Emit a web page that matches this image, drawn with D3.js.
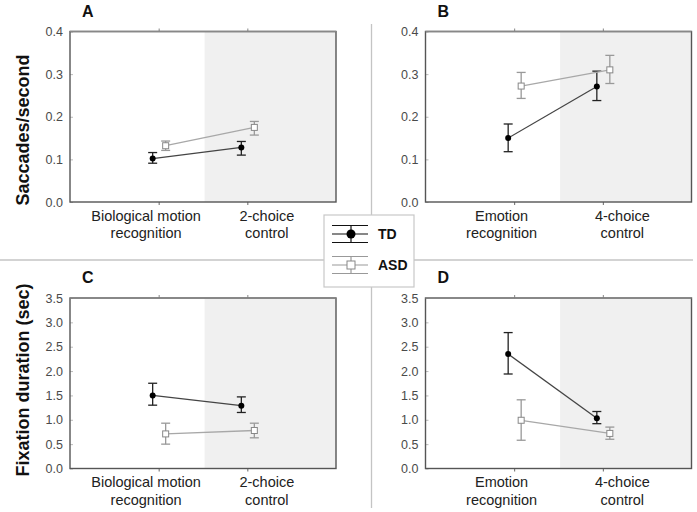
<!DOCTYPE html>
<html><head><meta charset="utf-8">
<script src="https://cdn.jsdelivr.net/npm/d3@7"></script>
<style>body{margin:0;background:#fff;} svg{display:block;font-family:"Liberation Sans",Arial,sans-serif;}</style>
</head><body>
<script>
// ---- data ----
const series = ["TD", "ASD"];
const catsAC = [["Biological motion", "recognition"], ["2-choice", "control"]];
const catsBD = [["Emotion", "recognition"], ["4-choice", "control"]];
const panelLabels = ["A", "B", "C", "D"];
const yTicksTop = [0.0, 0.1, 0.2, 0.3, 0.4];
const yTicksBottom = [0.0, 0.5, 1.0, 1.5, 2.0, 2.5, 3.0, 3.5];
const yLabels = ["Saccades/second", "Fixation duration (sec)"];
// values [task, control] ; errors [low, high]
const A_TD = [0.102, 0.128], A_TD_lo = [0.091, 0.110], A_TD_hi = [0.116, 0.142];
const A_ASD = [0.132, 0.175], A_ASD_lo = [0.121, 0.157], A_ASD_hi = [0.143, 0.189];
const B_TD = [0.150, 0.271], B_TD_lo = [0.118, 0.238], B_TD_hi = [0.183, 0.307];
const B_ASD = [0.272, 0.310], B_ASD_lo = [0.243, 0.278], B_ASD_hi = [0.304, 0.344];
const C_TD = [1.50, 1.29], C_TD_lo = [1.30, 1.15], C_TD_hi = [1.75, 1.47];
const C_ASD = [0.71, 0.78], C_ASD_lo = [0.50, 0.63], C_ASD_hi = [0.93, 0.93];
const D_TD = [2.35, 1.03], D_TD_lo = [1.94, 0.92], D_TD_hi = [2.79, 1.17];
const D_ASD = [0.99, 0.72], D_ASD_lo = [0.58, 0.60], D_ASD_hi = [1.41, 0.85];

const W = 697, H = 512;
const svg = d3.select("body").append("svg").attr("width", W).attr("height", H);

const styles = {
  TD: {line: "#444", err: "#222"},
  ASD: {line: "#a8a8a8", err: "#999"}
};
const offsets = {TD: -6, ASD: 7};

// dividers
svg.append("line").attr("x1", 0).attr("x2", 693).attr("y1", 260).attr("y2", 260)
  .attr("stroke", "#c4c4c4").attr("stroke-width", 1.3);
svg.append("line").attr("x1", 371.5).attr("x2", 371.5).attr("y1", 24).attr("y2", 508)
  .attr("stroke", "#c4c4c4").attr("stroke-width", 1.3);

function panel(cfg) {
  const {x0, y0, w, h, cats, ymax, ticks, fmt, data, label} = cfg;
  const g = svg.append("g").attr("transform", `translate(${x0},${y0})`);
  const x = d3.scalePoint().domain([0, 1]).range([0, w]).padding(1);
  const xl = d3.scaleLinear().domain([0, 1]).range([w * 0.286, w * 0.74]);
  const y = d3.scaleLinear().domain([0, ymax]).range([h, 0]);
  g.append("rect").attr("x", w * 0.506).attr("y", 0).attr("width", w - w * 0.506).attr("height", h)
    .attr("fill", "#f0f0f0");
  const ya = g.append("g").call(d3.axisLeft(y).tickValues(ticks).tickFormat(d3.format(fmt)).tickSizeInner(-3).tickSizeOuter(0).tickPadding(7));
  ya.select(".domain").remove();
  ya.selectAll(".tick line").attr("stroke", "#bbb");
  ya.selectAll("text").attr("font-size", 12.5).attr("fill", "#4a4a4a");
  const xa = g.append("g").attr("transform", `translate(0,${h})`)
    .call(d3.axisBottom(x).tickSize(3).tickFormat(""));
  xa.select(".domain").remove();
  xa.selectAll(".tick line").attr("stroke", "#666");
  const xt = g.append("g").call(d3.axisTop(x).tickSize(3).tickFormat(""));
  xt.select(".domain").remove();
  xt.selectAll(".tick line").attr("stroke", "#888");
  cats.forEach((c, i) => {
    const t = g.append("text").attr("x", xl(i)).attr("y", h + 18.5).attr("text-anchor", "middle")
      .attr("font-size", 14.5).attr("fill", "#222");
    c.forEach((s, j) => t.append("tspan").attr("x", xl(i)).attr("dy", j ? 17.5 : 0).text(s));
  });
  g.append("rect").attr("x", 0).attr("y", 0).attr("width", w).attr("height", h)
    .attr("fill", "none").attr("stroke", "#555").attr("stroke-width", 1.4);
  g.append("line").attr("x1", 0).attr("x2", w).attr("y1", 0).attr("y2", 0)
    .attr("stroke", "#888").attr("stroke-width", 1.6);
  svg.append("text").attr("x", x0 + 12).attr("y", y0 - 15).attr("font-size", 16)
    .attr("font-weight", "bold").attr("fill", "#111").text(label);
  series.forEach(s => {
    const d = data[s];
    const st = styles[s];
    const px = i => x(i) + offsets[s];
    const pts = d.v.map((v, i) => [px(i), y(v)]);
    g.append("path").attr("d", d3.line()(pts)).attr("fill", "none")
      .attr("stroke", st.line).attr("stroke-width", 1.3);
    d.v.forEach((v, i) => {
      const cx = px(i);
      g.append("line").attr("x1", cx).attr("x2", cx).attr("y1", y(d.lo[i])).attr("y2", y(d.hi[i]))
        .attr("stroke", st.err).attr("stroke-width", 1.3);
      [d.lo[i], d.hi[i]].forEach(e => g.append("line").attr("x1", cx - 4.5).attr("x2", cx + 4.5)
        .attr("y1", y(e)).attr("y2", y(e)).attr("stroke", st.err).attr("stroke-width", 1.3));
      if (s === "TD") {
        g.append("circle").attr("cx", cx).attr("cy", y(v)).attr("r", 3).attr("fill", "#000");
      } else {
        g.append("rect").attr("x", cx - 3).attr("y", y(v) - 3).attr("width", 6).attr("height", 6)
          .attr("fill", "#fff").attr("stroke", "#888").attr("stroke-width", 1);
      }
    });
  });
}

const mk = (v, lo, hi) => ({v, lo, hi});
panel({x0: 70, y0: 31.5, w: 266, h: 170.5, cats: catsAC, ymax: 0.4, ticks: yTicksTop, fmt: ".1f",
  label: panelLabels[0], data: {TD: mk(A_TD, A_TD_lo, A_TD_hi), ASD: mk(A_ASD, A_ASD_lo, A_ASD_hi)}});
panel({x0: 425.5, y0: 31.5, w: 266, h: 170.5, cats: catsBD, ymax: 0.4, ticks: yTicksTop, fmt: ".1f",
  label: panelLabels[1], data: {TD: mk(B_TD, B_TD_lo, B_TD_hi), ASD: mk(B_ASD, B_ASD_lo, B_ASD_hi)}});
panel({x0: 70, y0: 298, w: 266, h: 170.5, cats: catsAC, ymax: 3.5, ticks: yTicksBottom, fmt: ".1f",
  label: panelLabels[2], data: {TD: mk(C_TD, C_TD_lo, C_TD_hi), ASD: mk(C_ASD, C_ASD_lo, C_ASD_hi)}});
panel({x0: 425.5, y0: 298, w: 266, h: 170.5, cats: catsBD, ymax: 3.5, ticks: yTicksBottom, fmt: ".1f",
  label: panelLabels[3], data: {TD: mk(D_TD, D_TD_lo, D_TD_hi), ASD: mk(D_ASD, D_ASD_lo, D_ASD_hi)}});

[[130, yLabels[0]], [380, yLabels[1]]].forEach(([cy, t]) => {
  svg.append("text").attr("transform", `translate(29,${cy}) rotate(-90)`).attr("text-anchor", "middle")
    .attr("font-size", 18).attr("font-weight", "bold").attr("fill", "#111").text(t);
});

const lg = svg.append("g").attr("transform", "translate(324,215)");
lg.append("rect").attr("x", 0).attr("y", 0).attr("width", 90).attr("height", 72)
  .attr("fill", "#fff").attr("stroke", "#c8c8c8").attr("stroke-width", 1.2);
series.forEach((s, i) => {
  const cy = i ? 50 : 19;
  const col = i ? "#999" : "#111";
  const lgI = lg.append("g");
  [-8.5, 0, 8.5].forEach(dy => lgI.append("line").attr("x1", 8).attr("x2", 44)
    .attr("y1", cy + dy).attr("y2", cy + dy).attr("stroke", col).attr("stroke-width", 1.2));
  lgI.append("line").attr("x1", 27).attr("x2", 27).attr("y1", cy - 8.5).attr("y2", cy + 8.5)
    .attr("stroke", col).attr("stroke-width", 1.2);
  if (i === 0) lgI.append("circle").attr("cx", 27).attr("cy", cy).attr("r", 4.5).attr("fill", "#000");
  else lgI.append("rect").attr("x", 23).attr("y", cy - 4).attr("width", 8).attr("height", 8)
    .attr("fill", "#fff").attr("stroke", "#888");
  lg.append("text").attr("x", 54).attr("y", cy + 5).attr("font-size", 14).attr("font-weight", "bold")
    .attr("fill", "#111").text(s);
});
</script>
</body></html>
